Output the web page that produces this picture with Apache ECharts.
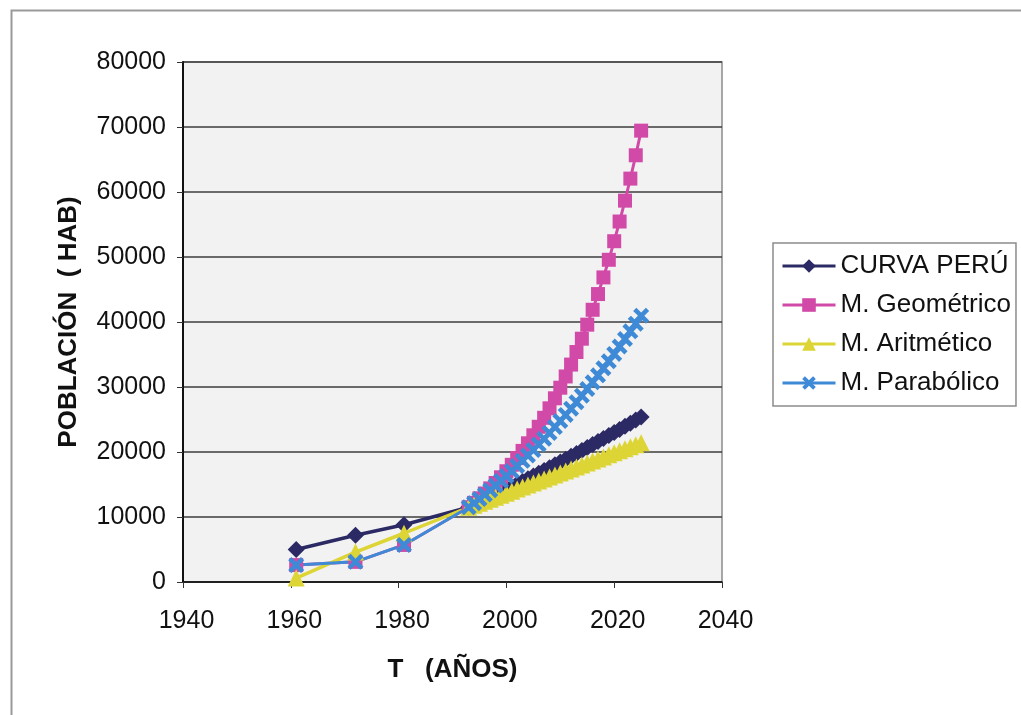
<!DOCTYPE html>
<html>
<head>
<meta charset="utf-8">
<script src="https://cdn.jsdelivr.net/npm/echarts@6/dist/echarts.min.js"></script>
<style>
html,body{margin:0;padding:0;background:#fff;}
#c{width:1021px;height:715px;}
</style>
</head>
<body>
<div id="c"></div>
<script>
// ---- data ----
const years = [1961, 1972, 1981, 1993, 1994, 1995, 1996, 1997, 1998, 1999, 2000, 2001, 2002, 2003, 2004, 2005, 2006, 2007, 2008, 2009, 2010, 2011, 2012, 2013, 2014, 2015, 2016, 2017, 2018, 2019, 2020, 2021, 2022, 2023, 2024, 2025];
const curvaPeru = [5000, 7200, 8800, 11500, 11880, 12270, 12660, 13050, 13440, 13840, 14240, 14650, 15060, 15470, 15890, 16300, 16730, 17150, 17580, 18020, 18450, 18890, 19330, 19780, 20230, 20680, 21140, 21600, 22060, 22530, 23000, 23470, 23950, 24430, 24910, 25400];
const geometrico = [2600, 3100, 5700, 11500, 12170, 12870, 13610, 14400, 15230, 16110, 17040, 18030, 19070, 20170, 21340, 22570, 23880, 25260, 26720, 28260, 29890, 31620, 33450, 35380, 37430, 39590, 41880, 44300, 46860, 49570, 52430, 55460, 58670, 62060, 65650, 69440];
const aritmetico = [600, 4600, 7500, 11500, 11810, 12120, 12430, 12740, 13050, 13360, 13670, 13980, 14290, 14600, 14910, 15220, 15530, 15840, 16150, 16460, 16770, 17080, 17390, 17700, 18010, 18320, 18630, 18940, 19250, 19560, 19870, 20180, 20490, 20800, 21110, 21420];
const parabolico = [2600, 3100, 5700, 11500, 12130, 12780, 13450, 14130, 14840, 15560, 16300, 17060, 17840, 18640, 19460, 20290, 21150, 22020, 22920, 23830, 24760, 25710, 26670, 27660, 28670, 29690, 30730, 31790, 32880, 33970, 35090, 36230, 37390, 38560, 39750, 40970];
const seriesNames = ['CURVA PERÚ', 'M. Geométrico', 'M. Aritmético', 'M. Parabólico'];
const xTitle = 'T   (AÑOS)';
const yTitle = 'POBLACIÓN  ( HAB)';

const pair = (vals) => years.map((y, i) => [y, vals[i]]);
const FONT = '"Liberation Sans", Arial, sans-serif';
const xPath = 'path://M2,0 L5,3 L8,0 L10,2 L7,5 L10,8 L8,10 L5,7 L2,10 L0,8 L3,5 L0,2 Z';
const plain = (v) => String(v);

const chart = echarts.init(document.getElementById('c'), null, {renderer: 'canvas'});
chart.setOption({
  backgroundColor: '#ffffff',
  animation: false,
  textStyle: {fontFamily: FONT},
  graphic: [{
    type: 'rect', left: 9, top: 8, silent: true,
    shape: {width: 1040, height: 740},
    style: {fill: 'none', stroke: '#9a9a9a', lineWidth: 2}
  }],
  grid: {
    left: 183, right: 299, top: 62, bottom: 133,
    show: true, backgroundColor: '#f2f2f2', borderColor: '#8a8a8a', borderWidth: 1.5
  },
  legend: {
    orient: 'vertical', left: 773, top: 243,
    padding: [8, 5, 8, 8],
    itemWidth: 53, itemHeight: 17, itemGap: 9,
    borderColor: '#8c8c8c', borderWidth: 1.5, backgroundColor: '#ffffff',
    lineStyle: {width: 3},
    textStyle: {fontSize: 26, color: '#111', fontFamily: FONT, lineHeight: 30},
    data: seriesNames
  },
  xAxis: {
    type: 'value', min: 1940, max: 2040, interval: 20,
    name: xTitle, nameLocation: 'middle', nameGap: 75,
    nameTextStyle: {fontSize: 26, fontWeight: 'bold', color: '#111', fontFamily: FONT},
    axisLine: {show: true, onZero: false, lineStyle: {color: '#111', width: 1.5}},
    axisTick: {show: true, length: 6, lineStyle: {color: '#333'}},
    axisLabel: {fontSize: 25, color: '#111', margin: 27, fontFamily: FONT, formatter: plain, padding: [0, 0, 0, 7]},
    splitLine: {show: false}
  },
  yAxis: {
    type: 'value', min: 0, max: 80000, interval: 10000,
    name: yTitle, nameLocation: 'middle', nameGap: 101, nameRotate: 90,
    nameTextStyle: {fontSize: 26, fontWeight: 'bold', color: '#111', fontFamily: FONT},
    axisLine: {show: true, lineStyle: {color: '#111', width: 2}},
    axisTick: {show: true, length: 6, lineStyle: {color: '#333'}},
    axisLabel: {fontSize: 25, color: '#111', margin: 17, fontFamily: FONT, formatter: plain},
    splitLine: {show: true, lineStyle: {color: '#3c3c3c', width: 1.5}}
  },
  series: [
    {
      name: seriesNames[0], type: 'line', data: pair(curvaPeru),
      symbol: 'diamond', symbolSize: 17,
      lineStyle: {color: '#2c2a64', width: 3.5},
      itemStyle: {color: '#2c2a64'}
    },
    {
      name: seriesNames[1], type: 'line', data: pair(geometrico),
      symbol: 'rect', symbolSize: 14,
      lineStyle: {color: '#d24aa8', width: 3},
      itemStyle: {color: '#d24aa8'}
    },
    {
      name: seriesNames[2], type: 'line', data: pair(aritmetico),
      symbol: 'triangle', symbolSize: 17,
      lineStyle: {color: '#dcd535', width: 3.5},
      itemStyle: {color: '#dcd535'}
    },
    {
      name: seriesNames[3], type: 'line', data: pair(parabolico),
      symbol: xPath, symbolSize: 16,
      lineStyle: {color: '#3f8ad6', width: 3},
      itemStyle: {color: '#3f8ad6'}
    }
  ]
});
</script>
</body>
</html>
